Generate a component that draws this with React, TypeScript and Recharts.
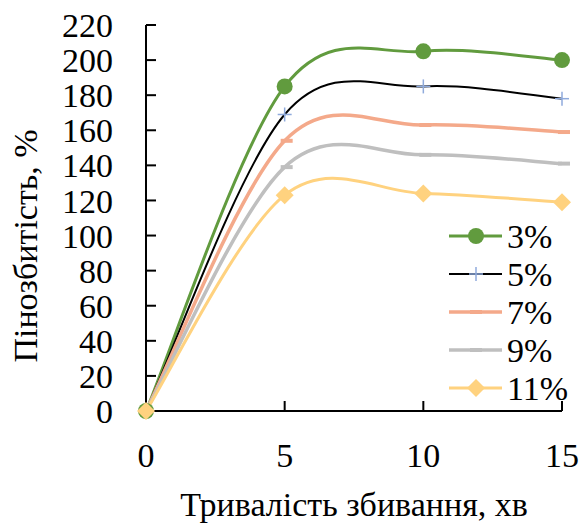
import { LineChart, Line, XAxis, YAxis } from 'recharts'

const minutes = [0, 5, 10, 15]
const foam3 = [0, 185, 205, 200]
const foam5 = [0, 169, 185, 178]
const foam7 = [0, 154, 163, 159]
const foam9 = [0, 139, 146, 141]
const foam11 = [0, 123, 124, 119]
const yTicks = [0, 20, 40, 60, 80, 100, 120, 140, 160, 180, 200, 220]

const data = minutes.map((t, i) => ({
  t,
  s3: foam3[i],
  s5: foam5[i],
  s7: foam7[i],
  s9: foam9[i],
  s11: foam11[i],
}))

const FONT = 'Liberation Serif'
const FS = 34

// smooth line through every point (cubic bezier, catmull-rom style tangents)
function smoothCurve(context: any) {
  let pts: number[][] = []
  return {
    areaStart() {},
    areaEnd() {},
    lineStart() {
      pts = []
    },
    point(x: number, y: number) {
      pts.push([+x, +y])
    },
    lineEnd() {
      const n = pts.length
      if (!n) return
      context.moveTo(pts[0][0], pts[0][1])
      if (n === 1) return
      for (let i = 0; i < n - 1; i++) {
        const p0 = pts[i - 1] || pts[i]
        const p1 = pts[i]
        const p2 = pts[i + 1]
        const p3 = pts[i + 2] || pts[i + 1]
        context.bezierCurveTo(
          p1[0] + (p2[0] - p0[0]) / 6,
          p1[1] + (p2[1] - p0[1]) / 6,
          p2[0] - (p3[0] - p1[0]) / 6,
          p2[1] - (p3[1] - p1[1]) / 6,
          p2[0],
          p2[1]
        )
      }
    },
  }
}

type Marker = 'circle' | 'plus' | 'dash' | 'diamond'

function drawMarker(kind: Marker, cx: number, cy: number, color: string, key?: any) {
  if (kind === 'circle') return <circle key={key} cx={cx} cy={cy} r={8} fill={color} />
  if (kind === 'plus')
    return (
      <g key={key} stroke={color} strokeWidth={1.5}>
        <line x1={cx - 7} y1={cy} x2={cx + 7} y2={cy} />
        <line x1={cx} y1={cy - 7} x2={cx} y2={cy + 7} />
      </g>
    )
  if (kind === 'dash')
    return <rect key={key} x={cx - 4} y={cy - 2} width={12} height={4} fill={color} />
  return (
    <polygon
      key={key}
      points={`${cx},${cy - 9} ${cx + 9},${cy} ${cx},${cy + 9} ${cx - 9},${cy}`}
      fill={color}
    />
  )
}

const series = [
  { key: 's3', name: '3%', color: '#619b3e', width: 3, marker: 'circle' as Marker, markerColor: '#619b3e' },
  { key: 's5', name: '5%', color: '#000000', width: 2, marker: 'plus' as Marker, markerColor: '#8faadc' },
  { key: 's7', name: '7%', color: '#f4a98a', width: 3.5, marker: 'dash' as Marker, markerColor: '#f4a98a' },
  { key: 's9', name: '9%', color: '#bfbfbf', width: 3.5, marker: 'dash' as Marker, markerColor: '#bfbfbf' },
  { key: 's11', name: '11%', color: '#ffd27f', width: 3, marker: 'diamond' as Marker, markerColor: '#ffd27f' },
]

function LegendBox() {
  return (
    <svg width={140} height={190} style={{ position: 'absolute', left: 445, top: 218, overflow: 'visible' }}>
      {series.map((s, i) => {
        const y = 18 + i * 38
        return (
          <g key={s.key}>
            <line x1={4} y1={y} x2={57} y2={y} stroke={s.color} strokeWidth={s.width} />
            {drawMarker(s.marker, s.marker === 'dash' ? 29 : 31, y, s.markerColor)}
            <text x={62} y={y} dy="0.36em" fontFamily={FONT} fontSize={FS} fill="#000">
              {s.name}
            </text>
          </g>
        )
      })}
    </svg>
  )
}

function YTitle({ viewBox }: any) {
  const cx = 25
  const cy = viewBox.y + viewBox.height / 2 + 28
  return (
    <text
      x={cx}
      y={cy}
      dy="0.36em"
      transform={`rotate(-90, ${cx}, ${cy})`}
      textAnchor="middle"
      fontFamily={FONT}
      fontSize={FS}
      fill="#000"
    >
      Пінозбитість, %
    </text>
  )
}

export default function App() {
  return (
    <div style={{ position: 'absolute', left: 0, top: 0, width: 582, height: 524, background: '#fff' }}>
      <LineChart width={582} height={524} data={data} margin={{ top: 25, right: 20, bottom: 0, left: 0 }}>
        <XAxis
          dataKey="t"
          type="number"
          domain={[0, 15]}
          ticks={minutes}
          interval={0}
          height={113}
          axisLine={{ stroke: '#000', strokeWidth: 2 }}
          tickLine={{ stroke: '#000', strokeWidth: 2 }}
          tickSize={-10}
          tickMargin={42}
          tick={{ fontFamily: FONT, fontSize: FS, fill: '#000' }}
          label={{
            value: 'Тривалість збивання, хв',
            position: 'insideBottom',
            offset: 8,
            style: { fontFamily: FONT, fontSize: FS, fill: '#000' },
          }}
        />
        <YAxis
          type="number"
          domain={[0, 220]}
          ticks={yTicks}
          interval={0}
          width={146}
          axisLine={{ stroke: '#000', strokeWidth: 2 }}
          tickLine={{ stroke: '#000', strokeWidth: 2 }}
          tickSize={-10}
          tickMargin={43}
          tick={{ fontFamily: FONT, fontSize: FS, fill: '#000' }}
          label={{ content: (props: any) => <YTitle {...props} /> }}
        />
        {series.map((s) => (
          <Line
            key={s.key}
            dataKey={s.key}
            name={s.name}
            type={smoothCurve as any}
            stroke={s.color}
            strokeWidth={s.width}
            isAnimationActive={false}
            dot={(p: any) => drawMarker(s.marker, p.cx, p.cy, s.markerColor, p.index)}
            activeDot={false}
          />
        ))}
      </LineChart>
      <LegendBox />
    </div>
  )
}
